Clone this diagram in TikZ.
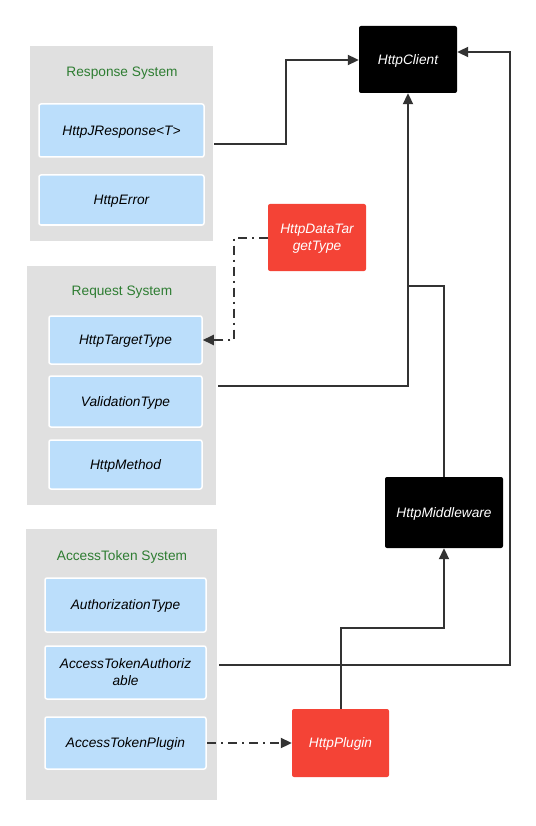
\documentclass[tikz,border=0pt]{standalone}
\usepackage{fontspec}
\setmainfont{Liberation Sans}
\usetikzlibrary{arrows.meta}
\definecolor{grp}{HTML}{E0E0E0}
\definecolor{blu}{HTML}{BBDEFB}
\definecolor{redb}{HTML}{F44336}
\definecolor{grn}{HTML}{2E7D32}
\definecolor{ln}{HTML}{333333}
\tikzset{
  group/.style={fill=grp, draw=none, inner sep=0pt},
  title/.style={text=grn, font=\fontsize{13.7}{16}\selectfont, inner sep=0pt},
  bluebox/.style={fill=blu, draw=white, line width=1.5pt, rounded corners=2pt, font=\fontsize{13.7}{17}\selectfont\itshape, align=center, inner sep=0pt, text depth=0pt},
  redbox/.style={fill=redb, draw=none, rounded corners=2pt, text=white, font=\fontsize{13.7}{17}\selectfont\itshape, align=center, inner sep=0pt, text depth=0pt},
  blackbox/.style={fill=black, draw=none, rounded corners=2pt, text=white, font=\fontsize{13.7}{17}\selectfont\itshape, align=center, inner sep=0pt, text depth=0pt},
  conn/.style={draw=ln, line width=2pt, -{Triangle[length=11pt,width=10pt]}},
  plain/.style={draw=ln, line width=2pt},
  dconn/.style={draw=ln, line width=2pt, dash pattern=on 9pt off 5pt on 2pt off 5pt, -{Triangle[length=11pt,width=10pt]}}
}
\begin{document}
\begin{tikzpicture}[x=1pt,y=1pt]
\useasboundingbox (0,0) rectangle (535,-826);
% groups
\node[group, minimum width=183pt, minimum height=195pt] (respG) at (121.5,-143.5) {};
\node[group, minimum width=189pt, minimum height=239pt] (reqG) at (121.5,-385.5) {};
\node[group, minimum width=191pt, minimum height=271pt] (atG) at (121.5,-664.5) {};
\node[title] (respT) at (122,-73.5) {Response System};
\node[title] (reqT) at (122,-292.5) {Request System};
\node[title] (atT) at (122,-556.5) {AccessToken System};
% blue boxes
\node[bluebox, minimum width=165pt, minimum height=53pt] (jresp) at (121.5,-130.5) {HttpJResponse<T>};
\node[bluebox, minimum width=165pt, minimum height=50pt] (err) at (121.5,-200) {HttpError};
\node[bluebox, minimum width=153pt, minimum height=48pt] (target) at (125.5,-340) {HttpTargetType};
\node[bluebox, minimum width=153pt, minimum height=51pt] (valid) at (125.5,-401.5) {ValidationType};
\node[bluebox, minimum width=153pt, minimum height=49pt] (method) at (125.5,-464.5) {HttpMethod};
\node[bluebox, minimum width=161pt, minimum height=54pt] (authT) at (125.5,-605) {AuthorizationType};
\node[bluebox, minimum width=161pt, minimum height=53pt] (ata) at (125.5,-672.5) {AccessTokenAuthoriz\\able};
\node[bluebox, minimum width=161pt, minimum height=52pt] (atp) at (125.5,-743) {AccessTokenPlugin};
% black / red
\node[blackbox, minimum width=98pt, minimum height=67pt] (client) at (408,-59.5) {HttpClient};
\node[blackbox, minimum width=118pt, minimum height=71pt] (mw) at (444,-512.5) {HttpMiddleware};
\node[redbox, minimum width=98pt, minimum height=67pt] (dtt) at (317,-237.5) {HttpDataTar\\getType};
\node[redbox, minimum width=97pt, minimum height=68pt] (plugin) at (340.5,-743) {HttpPlugin};
% helper coordinates
\coordinate (jrS) at (214,-144);
\coordinate (vaS) at (218,-386);
\coordinate (ataS) at (219,-665);
\coordinate (atpS) at (207,-743);
\coordinate (mwJ) at (408,-286);
% connectors
\draw[conn] (jrS) -- (286,-144) -- (286,-60) -- (client.west |- 0,-60);
\draw[conn] (vaS) -- (408,-386) -- (client.south);
\draw[plain] (mw.north) -- (444,-286) -- (mwJ);
\draw[conn] (plugin.north) -- (340.5,-628) -- (444,-628) -- (mw.south);
\draw[conn] (ataS) -- (510,-665) -- (510,-52) -- (client.east |- 0,-52);
\draw[dconn] (dtt.west) -- (234,-237.5) -- (234,-340) -- (target.east);
\draw[dconn] (atpS) -- (plugin.west);
\end{tikzpicture}
\end{document}
